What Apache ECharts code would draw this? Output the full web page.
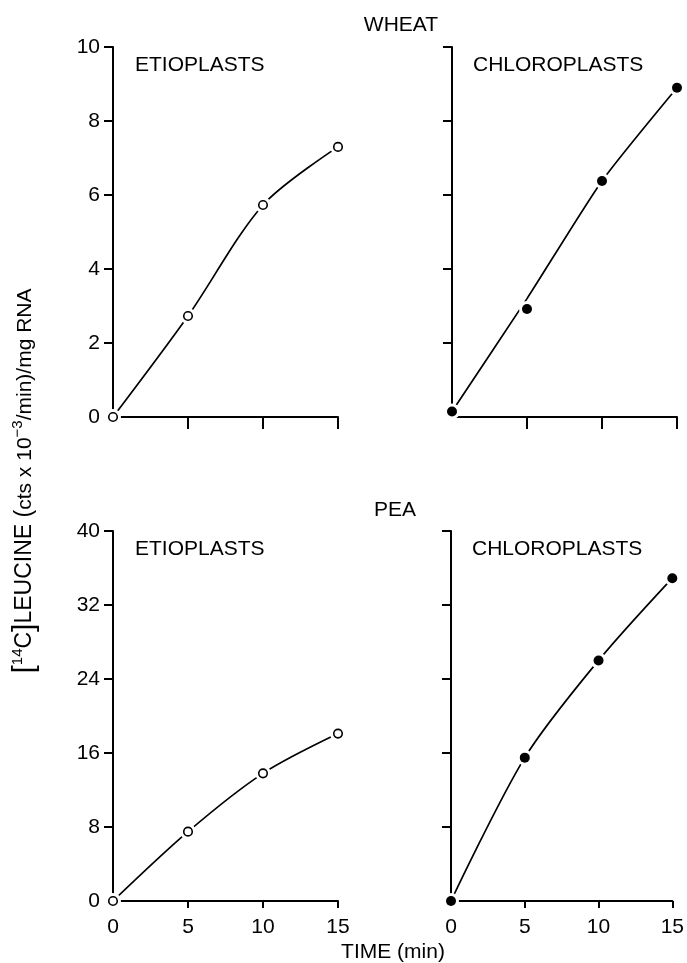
<!DOCTYPE html>
<html>
<head>
<meta charset="utf-8">
<script src="https://cdn.jsdelivr.net/npm/echarts@6/dist/echarts.min.js"></script>
<style>
html,body{margin:0;padding:0;background:#fff;}
#c{width:687px;height:963px;}
</style>
</head>
<body>
<div id="c"></div>
<script>
// ---- data ----
const time = [0, 5, 10, 15];
const xTicks = [0, 5, 10, 15];
// measured points
const wheatEtio = [0, 2.73, 5.73, 7.3];
const wheatChloro = [0.15, 2.92, 6.38, 8.9];
const peaEtio = [0, 7.5, 13.8, 18.1];
const peaChloro = [0, 15.5, 26.0, 34.9];
// hand-drawn curve heights read at the same times
const wheatEtioCurve = [0, 2.73, 5.73, 7.3];
const wheatChloroCurve = [0.15, 3.2, 6.38, 8.9];
const peaEtioCurve = [0, 7.5, 13.8, 18.1];
const peaChloroCurve = [0, 15.5, 26.0, 34.9];
const wheatTicks = [0, 2, 4, 6, 8, 10];
const peaTicks = [0, 8, 16, 24, 32, 40];

const FONT = 'Liberation Sans';
const HALO = '#ffffff';
const chart = echarts.init(document.getElementById('c'), null, {renderer: 'canvas'});

const grids = [
  {left: 113, top: 47, width: 225, height: 370},
  {left: 452, top: 47, width: 225, height: 370},
  {left: 113, top: 531, width: 225, height: 370},
  {left: 451, top: 531, width: 225, height: 370}
];

function xAxis(i, showLabels, tickLen) {
  return {
    type: 'value', gridIndex: i, min: xTicks[0], max: xTicks[xTicks.length - 1], interval: 5,
    axisLine: {show: true, onZero: false, lineStyle: {color: '#000', width: 2}},
    axisTick: {show: true, inside: false, length: tickLen, customValues: xTicks.slice(1),
               lineStyle: {color: '#000', width: 2}},
    axisLabel: {show: showLabels, margin: 16, color: '#000', fontFamily: FONT, fontSize: 21},
    splitLine: {show: false}
  };
}
function yAxis(i, ticks, showLabels) {
  return {
    type: 'value', gridIndex: i, min: ticks[0], max: ticks[ticks.length - 1],
    interval: ticks[1] - ticks[0],
    axisLine: {show: true, onZero: false, lineStyle: {color: '#000', width: 2}},
    axisTick: {show: true, inside: false, length: 9, customValues: ticks.slice(1),
               lineStyle: {color: '#000', width: 2}},
    axisLabel: {show: showLabels, margin: 13, color: '#000', fontFamily: FONT, fontSize: 21},
    splitLine: {show: false}
  };
}

function seriesFor(i, vals, curve, filled, smooth) {
  const d = time.map((t, k) => [t, vals[k]]);
  const c = time.map((t, k) => [t, curve[k]]);
  return [
    {type: 'line', xAxisIndex: i, yAxisIndex: i, data: c, smooth: smooth, showSymbol: false,
     lineStyle: {color: '#000', width: 1.7}, z: 2, silent: true, clip: false},
    {type: 'scatter', xAxisIndex: i, yAxisIndex: i, data: d, symbol: 'circle',
     symbolSize: 16, itemStyle: {color: HALO, opacity: 1}, z: 3, silent: true, clip: false},
    {type: 'scatter', xAxisIndex: i, yAxisIndex: i, data: d, symbol: 'circle',
     symbolSize: filled ? 10 : 8.5,
     itemStyle: filled ? {color: '#000', opacity: 1} : {color: '#fff', borderColor: '#000', borderWidth: 1.6, opacity: 1},
     z: 4, silent: true, clip: false}
  ];
}

function label(text, x, y) {
  return {type: 'text', x: x, y: y, silent: true,
    style: {text: text, fill: '#000', font: '21px "' + FONT + '"', align: 'left', verticalAlign: 'middle'}};
}
function centerLabel(text, x, y) {
  return {type: 'text', x: x, y: y, silent: true,
    style: {text: text, fill: '#000', font: '21px "' + FONT + '"', align: 'center', verticalAlign: 'middle'}};
}

const option = {
  animation: false,
  backgroundColor: '#fff',
  grid: grids,
  xAxis: [xAxis(0, false, 12), xAxis(1, false, 12), xAxis(2, true, 7), xAxis(3, true, 7)],
  yAxis: [yAxis(0, wheatTicks, true), yAxis(1, wheatTicks, false), yAxis(2, peaTicks, true), yAxis(3, peaTicks, false)],
  series: [].concat(
    seriesFor(0, wheatEtio, wheatEtioCurve, false, 0.3),
    seriesFor(1, wheatChloro, wheatChloroCurve, true, 0.2),
    seriesFor(2, peaEtio, peaEtioCurve, false, 0.3),
    seriesFor(3, peaChloro, peaChloroCurve, true, 0.3)
  ),
  graphic: [
    centerLabel('WHEAT', 401, 25),
    centerLabel('PEA', 395, 510),
    label('ETIOPLASTS', 135, 65),
    label('CHLOROPLASTS', 473, 65),
    label('ETIOPLASTS', 135, 549),
    label('CHLOROPLASTS', 472, 549),
    centerLabel('TIME (min)', 393, 952),
    {type: 'text', x: 25, y: 481, rotation: Math.PI / 2, silent: true,
     style: {
       text: '{b|[}{s|14}{c|C}{b|]}{c|LEUCINE (}{l|cts x 10}{s|−3}{l|/min)/mg RNA}',
       align: 'center', verticalAlign: 'middle', fill: '#000',
       rich: {
         b: {fontFamily: FONT, fontSize: 30, color: '#000'},
         c: {fontFamily: FONT, fontSize: 23, color: '#000', verticalAlign: 'middle'},
         l: {fontFamily: FONT, fontSize: 21, color: '#000', verticalAlign: 'middle'},
         s: {fontFamily: FONT, fontSize: 15, color: '#000', verticalAlign: 'top'}
       }
     }}
  ]
};
chart.setOption(option);
</script>
</body>
</html>
